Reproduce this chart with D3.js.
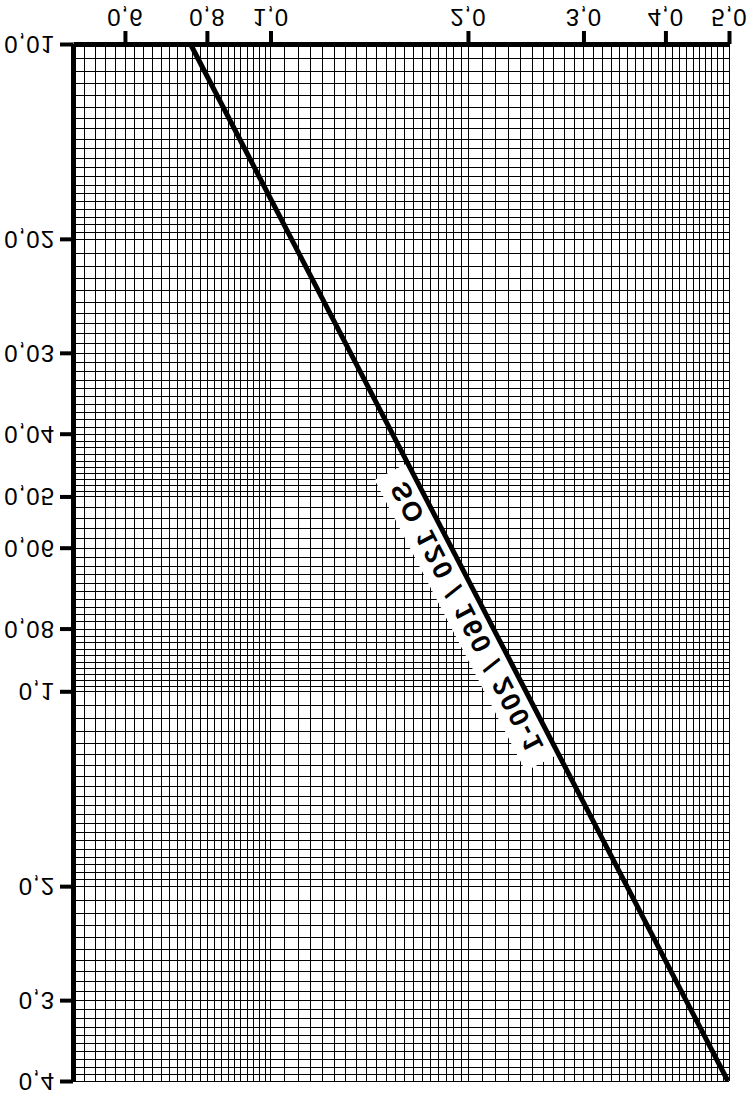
<!DOCTYPE html>
<html>
<head>
<meta charset="utf-8">
<script src="https://cdn.jsdelivr.net/npm/d3@7/dist/d3.min.js"></script>
<style>
  html, body { margin: 0; padding: 0; background: #fff; }
  svg { display: block; }
</style>
</head>
<body>
<svg id="chart" width="755" height="1098"></svg>
<script>
// ---- data ----
const xTickValues = [0.6, 0.8, 1, 2, 3, 4, 5];
const xTickLabels = ["0,6", "0,8", "1,0", "2,0", "3,0", "4,0", "5,0"];
const yTickValues = [0.01, 0.02, 0.03, 0.04, 0.05, 0.06, 0.08, 0.1, 0.2, 0.3, 0.4];
const yTickLabels = ["0,01", "0,02", "0,03", "0,04", "0,05", "0,06", "0,08", "0,1", "0,2", "0,3", "0,4"];
const xDomain = [0.5, 5];
const yDomain = [0.01, 0.4];
// log-paper mantissa subdivisions: [from, to, step]
const gridMantissa = [[1, 2, 0.05], [2, 5, 0.1], [5, 10, 0.2]];
// the characteristic line
const lineX = [0.755, 4.98];
const lineY = [0.01, 0.4];
const lineLabel = "SO 120 / 160 / 200-1";
const lineLabelAtY = 0.0745;

// ---- setup ----
const W = 755, H = 1098;
const svg = d3.select("#chart");
svg.append("rect").attr("width", W).attr("height", H).attr("fill", "#fff");

const x = d3.scaleLog().domain(xDomain).range([73, 729]);
const y = d3.scaleLog().domain(yDomain).range([44, 1081]);

function gridValues(domain) {
  const out = [];
  for (let e = -3; e <= 1; e++) {
    const p = Math.pow(10, e);
    for (const [a, b, s] of gridMantissa) {
      const n = Math.round((b - a) / s);
      for (let k = 0; k < n; k++) {
        const v = +((a + k * s) * p).toPrecision(8);
        if (v >= domain[0] * (1 - 1e-9) && v <= domain[1] * (1 + 1e-9)) out.push(v);
      }
    }
  }
  return out;
}

// ---- grid ----
const grid = svg.append("g").attr("stroke", "#000").attr("stroke-width", 1)
  .attr("shape-rendering", "crispEdges");
grid.selectAll("line.gx").data(gridValues(xDomain)).join("line")
  .attr("class", "gx")
  .attr("x1", d => Math.round(x(d)) + 0.5).attr("x2", d => Math.round(x(d)) + 0.5)
  .attr("y1", y.range()[0]).attr("y2", y.range()[1]);
grid.selectAll("line.gy").data(gridValues(yDomain)).join("line")
  .attr("class", "gy")
  .attr("y1", d => Math.round(y(d)) + 0.5).attr("y2", d => Math.round(y(d)) + 0.5)
  .attr("x1", x.range()[0]).attr("x2", x.range()[1]);

// ---- line label (white strip along the line) ----
const pts = lineX.map((v, i) => [x(v), y(lineY[i])]);
const ang = Math.atan2(pts[1][1] - pts[0][1], pts[1][0] - pts[0][0]) * 180 / Math.PI;
const ly = y(lineLabelAtY);
const lx = pts[0][0] + (ly - pts[0][1]) / (pts[1][1] - pts[0][1]) * (pts[1][0] - pts[0][0]);
const lab = svg.append("g")
  .attr("transform", `translate(${lx},${ly}) rotate(${ang}) scale(1,-1)`);
lab.append("rect").attr("x", -164).attr("y", -37).attr("width", 328).attr("height", 37)
  .attr("fill", "#fff");
lab.append("text")
  .attr("x", 0).attr("y", -9)
  .attr("text-anchor", "middle")
  .attr("font-family", "Liberation Sans, Arial, sans-serif")
  .attr("font-weight", "bold")
  .attr("font-size", 27)
  .attr("textLength", 300)
  .attr("lengthAdjust", "spacing")
  .text(lineLabel);

// ---- line ----
svg.append("path")
  .datum(lineX.map((v, i) => [v, lineY[i]]))
  .attr("fill", "none").attr("stroke", "#000").attr("stroke-width", 5)
  .attr("d", d3.line().x(d => x(d[0])).y(d => y(d[1])));

// ---- axes ----
const font = "Liberation Sans, Arial, sans-serif";
const gx = svg.append("g").attr("transform", "translate(0,44)")
  .call(d3.axisTop(x).tickValues(xTickValues).tickFormat((d, i) => xTickLabels[i])
    .tickSize(13).tickSizeOuter(0));
gx.select(".domain").attr("stroke", "#000").attr("stroke-width", 5);
gx.selectAll(".tick line").attr("stroke", "#000").attr("stroke-width", 4);
gx.selectAll(".tick text")
  .attr("y", null).attr("dy", null)
  .attr("fill", "#000")
  .attr("font-family", font).attr("font-size", 24).attr("letter-spacing", 1)
  .attr("text-anchor", "middle").attr("dominant-baseline", "central")
  .attr("transform", "translate(0,-27) scale(1,-1)");

const gy = svg.append("g").attr("transform", "translate(73,0)")
  .call(d3.axisLeft(y).tickValues(yTickValues).tickFormat((d, i) => yTickLabels[i])
    .tickSize(13).tickSizeOuter(0));
gy.select(".domain").attr("stroke", "#000").attr("stroke-width", 5);
gy.selectAll(".tick line").attr("stroke", "#000").attr("stroke-width", 4);
gy.selectAll(".tick text")
  .attr("x", null).attr("dy", null)
  .attr("fill", "#000")
  .attr("font-family", font).attr("font-size", 24).attr("letter-spacing", 1)
  .attr("text-anchor", "end").attr("dominant-baseline", "central")
  .attr("transform", "translate(-18,0) scale(1,-1)");
gx.attr("font-size", 24).attr("font-family", font);
gy.attr("font-size", 24).attr("font-family", font);
</script>
</body>
</html>
